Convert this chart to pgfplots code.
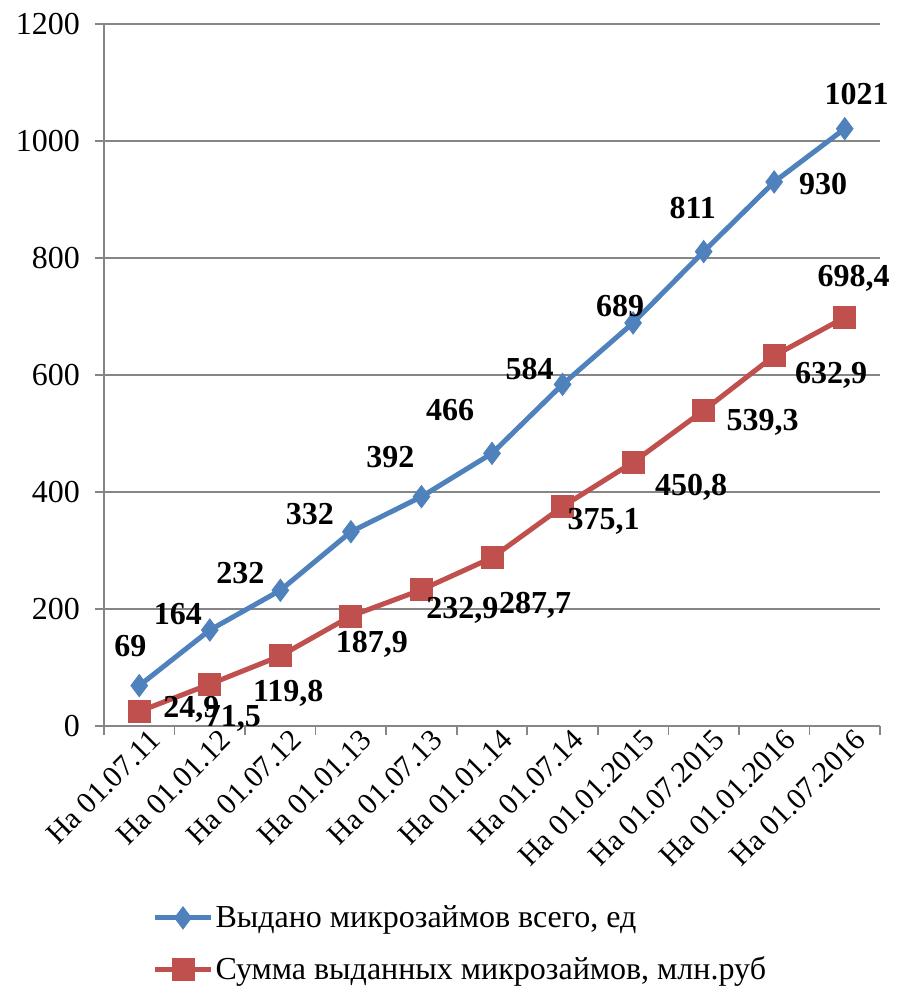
\documentclass[border=0pt]{standalone}
\usepackage{pgfplots}
\usepackage{pgfplotstable}
\usepackage{fontspec}
\setmainfont{Liberation Serif}
\pgfplotsset{compat=1.18}
\definecolor{blueS}{HTML}{4F81BD}
\definecolor{redS}{HTML}{C0504D}
\definecolor{gridg}{HTML}{868686}

% x  y  label  dx dy (label centre offset, pt)
\pgfplotstableread{
x y lab dx dy
0 69 69 -4.5 20
1 164 164 -16 8
2 232 232 -20 8.5
3 332 332 -20.5 9
4 392 392 -15.5 20
5 466 466 -21 21.5
6 584 584 -16.5 7.5
7 689 689 -6.5 8.5
8 811 811 -5.5 22
9 930 930 24.5 -1
10 1021 1021 6 17.5
}\loans

\pgfplotstableread{
x y lab dx dy
0 24.9 24,9 26 1
1 71.5 71,5 11.5 -17
2 119.8 119,8 4 -18.5
3 187.9 187,9 10.5 -14
4 232.9 232,9 20.5 -10.5
5 287.7 287,7 21.5 -24
6 375.1 375,1 20.5 -7.5
7 450.8 450,8 29 -12.5
8 539.3 539,3 29.5 -6
9 632.9 632,9 28.5 -10
10 698.4 698,4 4.5 19.5
}\sums

\begin{document}
\begin{tikzpicture}
\path[use as bounding box] (-52pt,-131pt) rectangle (396pt,363pt);
\begin{axis}[
  scale only axis,
  width=388pt, height=351pt,
  xmin=-0.5, xmax=10.5, ymin=0, ymax=1200,
  axis lines*=left,
  axis line style={gridg, line width=0.8pt},
  xtick={-0.5,0.5,...,10.5},
  xticklabels={},
  extra x ticks={0,...,10},
  extra x tick labels={На 01.07.11, На 01.01.12, На 01.07.12, На 01.01.13, На 01.07.13, На 01.01.14, На 01.07.14, На 01.01.2015, На 01.07.2015, На 01.01.2016, На 01.07.2016},
  extra x tick style={major tick length=0pt},
  ytick={0,200,...,1200},
  tick align=outside,
  major tick length=4.5pt,
  tick style={gridg, line width=0.8pt},
  ymajorgrids,
  grid style={gridg, line width=0.8pt},
  /pgf/number format/assume math mode=true,
  /pgf/number format/1000 sep={},
  yticklabel style={font=\fontsize{16}{19}\selectfont, xshift=-4pt},
  xticklabel style={font=\fontsize{15}{18}\selectfont, rotate=45, anchor=north east, inner sep=0pt, xshift=2.5pt, yshift=-3.5pt},
  legend style={at={(axis description cs:0.062,-0.255)}, anchor=north west, draw=none, fill=none,
    font=\fontsize{16}{19}\selectfont, row sep=13pt, inner sep=0pt, nodes={inner sep=0pt}, column sep=1pt},
  legend cell align=left,
  legend image code/.code={\draw[#1, mark repeat=2, mark phase=2] plot coordinates {(0pt,0pt) (14pt,0pt) (28pt,0pt)};},
]
\pgfplotsset{lbl/.style={
  nodes near coords={\pgfplotspointmeta},
  point meta=explicit symbolic,
  visualization depends on={\thisrow{dx}\as\dx},
  visualization depends on={\thisrow{dy}\as\dy},
  nodes near coords style={font=\fontsize{16}{19}\selectfont\bfseries, anchor=center, xshift=\dx pt, yshift=\dy pt, text=black},
}}
\addplot[blueS, line width=2.5pt, mark=diamond*, mark size=5.5pt, mark options={line width=0.5pt}, lbl]
  table[x=x, y=y, meta=lab] {\loans};
\addlegendentry{Выдано микрозаймов всего, ед}
\addplot[redS, line width=2.5pt, mark=square*, mark size=5.5pt, mark options={line width=0.5pt}, lbl]
  table[x=x, y=y, meta=lab] {\sums};
\addlegendentry{Сумма выданных микрозаймов, млн.руб}
\end{axis}
\end{tikzpicture}
\end{document}
